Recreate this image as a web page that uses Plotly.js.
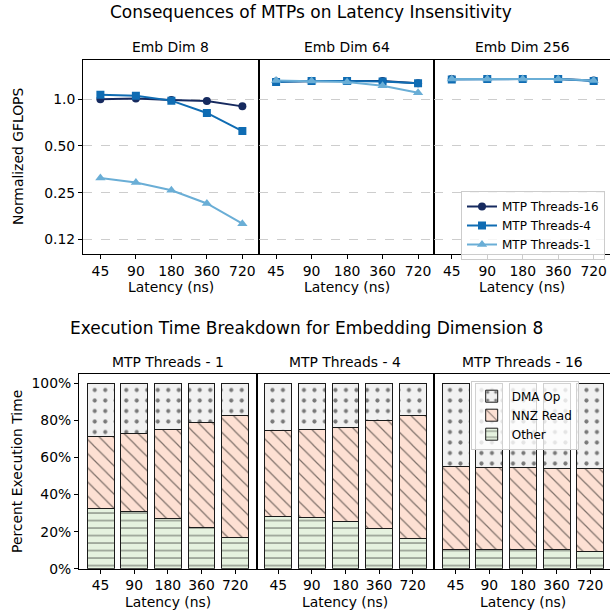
<!DOCTYPE html>
<html>
<head>
<meta charset="utf-8">
<script src="https://cdn.plot.ly/plotly-3.0.1.min.js"></script>
<style>html,body{margin:0;padding:0;background:#fff;}#chart{width:610px;height:615px;}</style>
</head>
<body>
<div id="chart"></div>
<script>
// ---------- data ----------
const latencies = ["45", "90", "180", "360", "720"];

// Top: normalized GFLOPS (log scale)
const dim8_t16   = [1.00, 1.01, 0.99, 0.975, 0.90];
const dim8_t4    = [1.07, 1.055, 0.98, 0.816, 0.624];
const dim8_t1    = [0.311, 0.291, 0.259, 0.213, 0.158];
const dim64_t16  = [1.30, 1.31, 1.31, 1.31, 1.27];
const dim64_t4   = [1.29, 1.31, 1.31, 1.30, 1.27];
const dim64_t1   = [1.32, 1.31, 1.29, 1.22, 1.10];
const dim256_t16 = [1.35, 1.35, 1.35, 1.35, 1.32];
const dim256_t4  = [1.34, 1.35, 1.35, 1.35, 1.31];
const dim256_t1  = [1.35, 1.35, 1.35, 1.35, 1.32];
const topPanels = ["Emb Dim 8", "Emb Dim 64", "Emb Dim 256"];
const seriesNames = ["MTP Threads-16", "MTP Threads-4", "MTP Threads-1"];
const yTickVals = [0.125, 0.25, 0.5, 1.0];
const yTickText = ["0.12", "0.25", "0.50", "1.0"];

// Bottom: percent execution time, embedding dimension 8
const botPanels = ["MTP Threads - 1", "MTP Threads - 4", "MTP Threads - 16"];
const t1_other = [32.6, 30.6, 27.2, 22.3, 16.7];
const t1_nnz   = [39.0, 42.2, 48.0, 56.8, 66.2];
const t1_dma   = [28.4, 27.2, 24.8, 20.9, 17.1];
const t4_other = [27.9, 27.5, 25.4, 21.6, 16.2];
const t4_nnz   = [46.9, 47.7, 50.9, 58.1, 66.7];
const t4_dma   = [25.2, 24.8, 23.7, 20.3, 17.1];
const t16_other = [10.4, 10.4, 10.4, 10.1, 9.5];
const t16_nnz   = [44.5, 44.1, 44.1, 44.2, 44.8];
const t16_dma   = [45.1, 45.5, 45.5, 45.7, 45.7];
const pctTicks = [0, 20, 40, 60, 80, 100];
const pctTickText = ["0%", "20%", "40%", "60%", "80%", "100%"];

// ---------- styling ----------
const W = 610, H = 615;
const px = x => x / W;
const py = y => 1 - y / H;
const FONT = "DejaVu Sans";
const lineColors = ["#162a5f", "#0f6cb3", "#6aaed6"];
const symbols = ["circle", "square", "triangle-up"];

const topData = [
  [dim8_t16, dim8_t4, dim8_t1],
  [dim64_t16, dim64_t4, dim64_t1],
  [dim256_t16, dim256_t4, dim256_t1]
];
const botData = [
  [t1_other, t1_nnz, t1_dma],
  [t4_other, t4_nnz, t4_dma],
  [t16_other, t16_nnz, t16_dma]
];
const segNames = ["Other", "NNZ Read", "DMA Op"];
const segColors = ["#e5f2df", "#fde0d3", "#f1f1f1"];
const segShapes = ["-", "\\", "."];
const segSizes = [7.5, 10, 10.5];
const segSolid = [0.15, 0.12, 0.12];

const topX = [[83, 258.7], [258.7, 434.4], [434.4, 610]];
const topY = [60, 254];
const botX = [[79, 256.7], [256.7, 434.2], [434.2, 610]];
const botY = [374.3, 568.7];

const traces = [];
const layout = {
  width: W, height: H,
  margin: {l: 0, r: 0, t: 0, b: 0},
  paper_bgcolor: "#fff", plot_bgcolor: "#fff",
  font: {family: FONT, size: 13.9, color: "#000"},
  showlegend: true,
  annotations: [],
  legend: {
    x: px(605), y: py(191), xanchor: "right", yanchor: "top",
    bgcolor: "rgba(255,255,255,0.8)", bordercolor: "#cccccc", borderwidth: 1,
    font: {family: FONT, size: 12, color: "#000"}, tracegroupgap: 0
  },
  legend2: {
    x: px(470.7), y: py(380.7), xanchor: "left", yanchor: "top",
    bgcolor: "rgba(255,255,255,0.8)", bordercolor: "#cccccc", borderwidth: 1,
    font: {family: FONT, size: 12, color: "#000"}, traceorder: "reversed", tracegroupgap: 0
  }
};

function ann(text, x, y, size, angle) {
  layout.annotations.push({
    text: text, xref: "paper", yref: "paper", x: px(x), y: py(y),
    xanchor: "center", yanchor: "middle", showarrow: false,
    textangle: angle || 0, font: {family: FONT, size: size, color: "#000"}
  });
}

// ---------- top panels ----------
for (let p = 0; p < 3; p++) {
  const xa = "xaxis" + (p === 0 ? "" : (p + 1));
  const ya = "yaxis" + (p === 0 ? "" : (p + 1));
  const xr = "x" + (p === 0 ? "" : (p + 1));
  const yr = "y" + (p === 0 ? "" : (p + 1));
  layout[xa] = {
    domain: [px(topX[p][0]), px(topX[p][1])], anchor: yr,
    type: "category", range: [-0.49, 4.46],
    showline: true, linecolor: "#000", linewidth: 1, mirror: true,
    ticks: "outside", ticklen: 4, tickwidth: 1, tickcolor: "#000",
    showgrid: false, zeroline: false, fixedrange: true,
    tickfont: {family: FONT, size: 13.9, color: "#000"}
  };
  layout[ya] = {
    domain: [py(topY[1]), py(topY[0])], anchor: xr,
    type: "log", range: [-0.997, 0.253],
    tickvals: yTickVals, ticktext: yTickText,
    showline: true, linecolor: "#000", linewidth: 1, mirror: p < 2,
    ticks: p === 0 ? "outside" : "", ticklen: 4, tickwidth: 1, tickcolor: "#000",
    showticklabels: p === 0,
    showgrid: true, gridcolor: "#c0c0c0", gridwidth: 0.8, griddash: "dash",
    zeroline: false, fixedrange: true,
    tickfont: {family: FONT, size: 13.9, color: "#000"}
  };
  for (let s = 0; s < 3; s++) {
    traces.push({
      type: "scatter", mode: "lines+markers",
      x: latencies, y: topData[p][s], name: seriesNames[s],
      xaxis: xr, yaxis: yr, legend: "legend", showlegend: p === 0,
      line: {color: lineColors[s], width: 2},
      marker: {symbol: symbols[s], size: s === 2 ? 9 : 8, color: lineColors[s]}
    });
  }
  ann(topPanels[p], (topX[p][0] + topX[p][1]) / 2, 47, 13.9);
  ann("Latency (ns)", (topX[p][0] + topX[p][1]) / 2, 287, 13.9);
}

// ---------- bottom panels ----------
for (let p = 0; p < 3; p++) {
  const n = p + 4;
  const xa = "xaxis" + n, ya = "yaxis" + n, xr = "x" + n, yr = "y" + n;
  const r1 = p === 2 ? 4.59 : 4.64;
  layout[xa] = {
    domain: [px(botX[p][0]), px(botX[p][1])], anchor: yr,
    type: "category", range: [-0.64, r1],
    showline: true, linecolor: "#000", linewidth: 1, mirror: true,
    ticks: "outside", ticklen: 4, tickwidth: 1, tickcolor: "#000",
    showgrid: false, zeroline: false, fixedrange: true,
    tickfont: {family: FONT, size: 13.9, color: "#000"}
  };
  layout[ya] = {
    domain: [py(botY[1]), py(botY[0])], anchor: xr,
    range: [0, 104.9], tickvals: pctTicks, ticktext: pctTickText,
    showline: true, linecolor: "#000", linewidth: 1, mirror: p < 2,
    ticks: p === 0 ? "outside" : "", ticklen: 4, tickwidth: 1, tickcolor: "#000",
    showticklabels: p === 0, showgrid: false, zeroline: false, fixedrange: true,
    tickfont: {family: FONT, size: 13.9, color: "#000"}
  };
  for (let s = 0; s < 3; s++) {
    traces.push({
      type: "bar", x: latencies, y: botData[p][s], name: segNames[s],
      xaxis: xr, yaxis: yr, width: 0.8,
      legend: "legend2", showlegend: p === 2,
      marker: {
        color: segColors[s],
        line: {color: "#1a1a1a", width: 1},
        pattern: {shape: segShapes[s], fgcolor: "#000", bgcolor: segColors[s],
                  size: segSizes[s], solidity: segSolid[s], fillmode: "overlay"}
      }
    });
  }
  const right = p === 2 ? 611.6 : botX[p][1];
  ann(botPanels[p], (botX[p][0] + right) / 2, 362, 13.9);
  ann("Latency (ns)", (botX[p][0] + right) / 2, 602, 13.9);
}
layout.barmode = "stack";

ann("Consequences of MTPs on Latency Insensitivity", 311, 12, 17);
ann("Execution Time Breakdown for Embedding Dimension 8", 306, 328, 17);
ann("Normalized GFLOPS", 18, 157, 13.9, -90);
ann("Percent Execution Time", 16.5, 471.5, 13.9, -90);

Plotly.newPlot("chart", traces, layout, {staticPlot: true, displayModeBar: false});
</script>
</body>
</html>
